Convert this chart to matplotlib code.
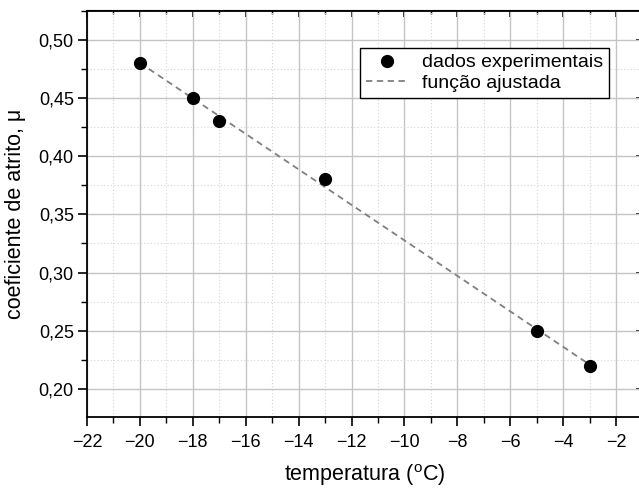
import matplotlib
matplotlib.use("Agg")
import matplotlib.pyplot as plt
from matplotlib.ticker import MultipleLocator, FuncFormatter

plt.rcParams['font.family'] = ['Liberation Sans', 'DejaVu Sans']
plt.rcParams['mathtext.fontset'] = 'custom'
plt.rcParams['mathtext.rm'] = 'Liberation Sans'
plt.rcParams['axes.unicode_minus'] = True

temp = [-20, -18, -17, -13, -5, -3]
mu = [0.48, 0.45, 0.43, 0.38, 0.25, 0.22]
fit_x = [-20, -3]
fit_y = [0.480, 0.221]

fig = plt.figure(figsize=(6.39, 4.88), dpi=100)
ax = fig.add_axes([87/639, 71/488, 555.5/639, 406.5/488])

ax.plot(fit_x, fit_y, linestyle=(0, (3.5, 2.5)), color='#808080', lw=1.3,
        label='função ajustada', zorder=3)
ax.plot(temp, mu, 'o', color='black', markersize=8.5, label='dados experimentais',
        zorder=4, linestyle='none')

ax.set_xlim(-22, -1)
ax.set_ylim(0.176, 0.525)
ax.xaxis.set_major_locator(MultipleLocator(2))
ax.xaxis.set_minor_locator(MultipleLocator(1))
ax.yaxis.set_major_locator(MultipleLocator(0.05))
ax.yaxis.set_minor_locator(MultipleLocator(0.025))
ax.yaxis.set_major_formatter(FuncFormatter(lambda v, p: f'{v:.2f}'.replace('.', ',')))
ax.xaxis.set_major_formatter(FuncFormatter(lambda v, p: f'{int(round(v))}'.replace('-', '\u2212')))

ax.grid(which='major', color='#c4c4c4', lw=1.0, linestyle='-', zorder=0)
ax.grid(which='minor', color='#d4d4d4', lw=0.8, linestyle=(0, (1, 2)), zorder=0)
ax.set_axisbelow(True)

for s in ax.spines.values():
    s.set_linewidth(1.3)
    s.set_color('black')

ax.tick_params(which='major', direction='out', length=6.5, width=1.2, labelsize=13,
               colors='black', pad=3)
ax.tick_params(which='minor', direction='out', length=4, width=1.0)
ax.tick_params(axis='x', pad=6)

top = ax.secondary_xaxis('top')
top.xaxis.set_major_locator(MultipleLocator(2))
top.xaxis.set_minor_locator(MultipleLocator(1))
top.tick_params(which='major', direction='in', length=5, width=1.2, labeltop=False)
top.tick_params(which='minor', direction='in', length=3, width=1.0)
right = ax.secondary_yaxis('right')
right.yaxis.set_major_locator(MultipleLocator(0.05))
right.yaxis.set_minor_locator(MultipleLocator(0.025))
right.tick_params(which='major', direction='in', length=5, width=1.2, labelright=False)
right.tick_params(which='minor', direction='in', length=3, width=1.0)

ax.set_xlabel(r'temperatura ($^\mathrm{o}$C)', fontsize=15.5, labelpad=8)
ax.set_ylabel('coeficiente de atrito, μ', fontsize=15.5, labelpad=9)

handles, labels = ax.get_legend_handles_labels()
leg = ax.legend(handles[::-1], labels[::-1], loc='upper right', fontsize=14,
                frameon=True, fancybox=False, edgecolor='black', framealpha=1,
                handlelength=2.2, handletextpad=0.7, borderpad=0.3, labelspacing=0.15,
                borderaxespad=0)
leg.set_bbox_to_anchor((609/639, 440/488), transform=fig.transFigure)
leg.get_frame().set_linewidth(1.0)

fig.savefig('out.png', dpi=100)
